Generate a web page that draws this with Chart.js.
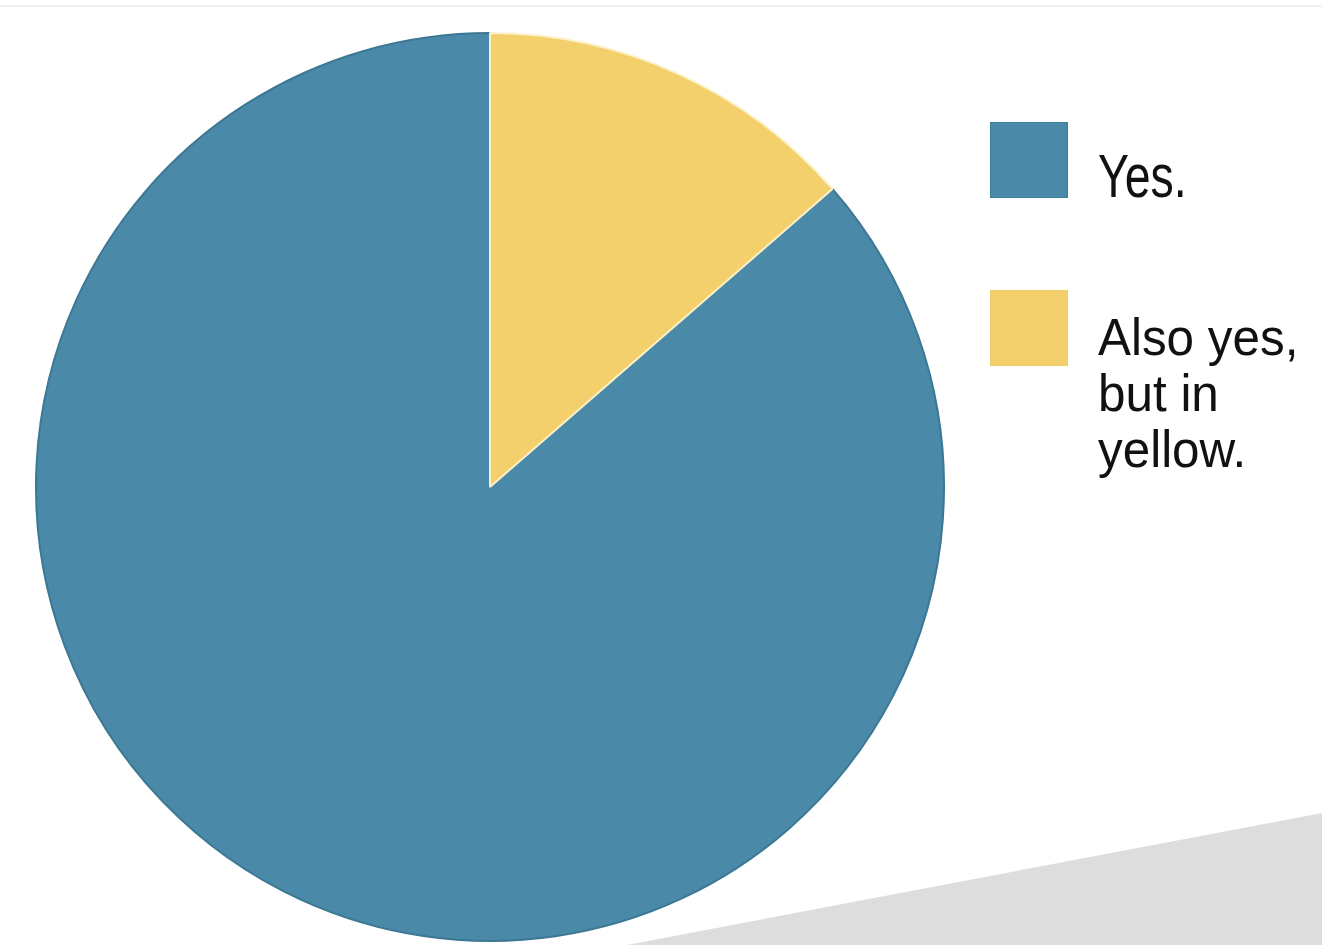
<!DOCTYPE html>
<html>
<head>
<meta charset="utf-8">
<script src="https://cdn.jsdelivr.net/npm/chart.js@4/dist/chart.umd.min.js"></script>
<style>
  html, body { margin: 0; padding: 0; background: #fff; }
  body { width: 1322px; height: 945px; position: relative; overflow: hidden; font-family: "Liberation Sans", Arial, sans-serif; }
  #topLine { position: absolute; left: 0; top: 5px; width: 1322px; height: 2px; background: #f4f0ec; }
  #shade { position: absolute; left: 0; top: 0; width: 1322px; height: 945px; background: #dddddd;
           clip-path: polygon(627px 945px, 1322px 813px, 1322px 945px); }
  #chartBox { position: absolute; left: 0; top: 0; width: 1322px; height: 945px; }
  .legend-box { position: absolute; left: 990px; width: 76px; height: 74px; }
  .legend-text { position: absolute; left: 1098px; color: #111; white-space: nowrap; transform-origin: left top; }
</style>
</head>
<body>
<div id="topLine"></div>
<div id="shade"></div>
<div id="chartBox"><canvas id="pieChart" width="1322" height="945"></canvas></div>
<div id="legend"></div>

<script>
// ===================== Data ===================

const labels = ['Yes.', 'Also yes, but in yellow.'];
const legendLines = [['Yes.'], ['Also yes,', 'but in', 'yellow.']];
const values = [86.4, 13.6];
const colors = ['#4a8aa8', '#f4d06c'];
const sliceBorders = ['#3c7793', '#fbf1c9'];
const boxBorders = ['#3f7d99', '#eccb6a'];

// ===================== Legend ===================

function buildLegend() {
  const legend = document.getElementById('legend');
  const boxTops = [122, 290];
  const textTops = [145, 309];
  const fontSizes = [62, 52];
  const lineHeights = [62, 56];
  const scales = [0.75, 0.95];

  labels.forEach((label, i) => {
    const box = document.createElement('div');
    box.className = 'legend-box';
    box.style.top = boxTops[i] + 'px';
    box.style.background = colors[i];
    box.style.border = '1px solid ' + boxBorders[i];
    legend.appendChild(box);

    const text = document.createElement('div');
    text.className = 'legend-text';
    text.style.top = textTops[i] + 'px';
    text.style.fontSize = fontSizes[i] + 'px';
    text.style.lineHeight = lineHeights[i] + 'px';
    text.style.transform = 'scaleX(' + scales[i] + ')';
    text.innerHTML = legendLines[i].join('<br>');
    legend.appendChild(text);
  });
}

// ===================== Chart ===================

function drawChart() {
  const total = values.reduce((a, b) => a + b, 0);
  // yellow slice starts at 12 o'clock, blue follows it clockwise
  const startAngle = values[1] / total * 360;

  new Chart(document.getElementById('pieChart'), {
    type: 'pie',
    data: {
      labels: labels,
      datasets: [{
        data: values,
        backgroundColor: colors,
        borderColor: sliceBorders,
        borderWidth: 2
      }]
    },
    options: {
      responsive: false,
      animation: false,
      rotation: startAngle,
      layout: { padding: { left: 35, top: 32, right: 377, bottom: 3 } },
      plugins: {
        legend: { display: false },
        tooltip: { enabled: false }
      }
    }
  });
}

document.addEventListener('DOMContentLoaded', () => {
  buildLegend();
  drawChart();
});
</script>
</body>
</html>
